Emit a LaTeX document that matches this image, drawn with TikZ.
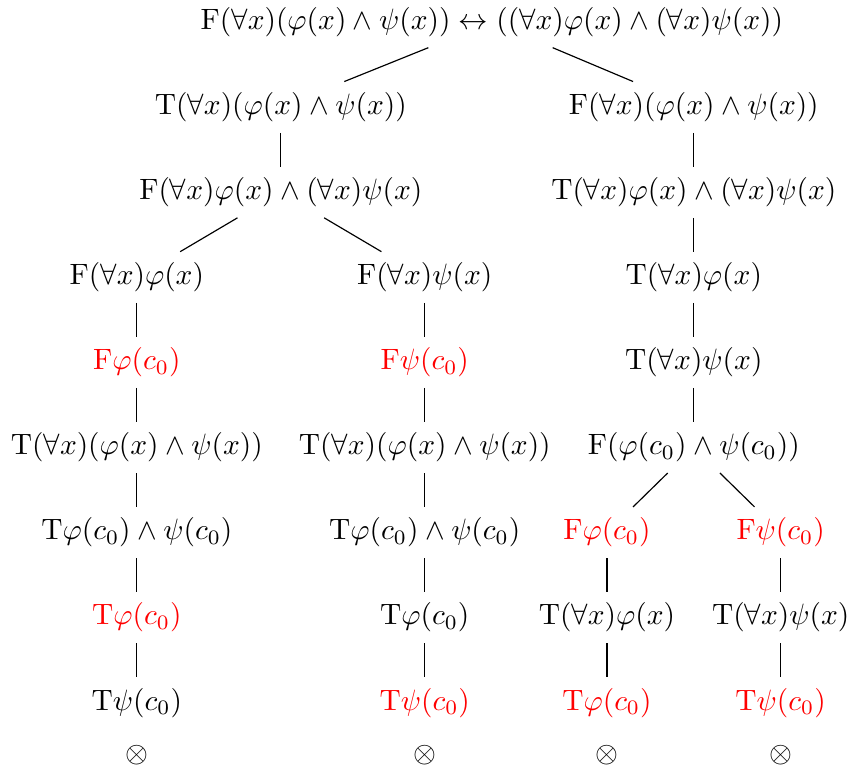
\documentclass[tikz,border=0pt]{standalone}
\usepackage{amsmath}
\usepackage{tikz}
\usetikzlibrary{positioning}
\tikzstyle{formula} = [text height=7.5pt, text depth=2.5pt, inner sep=3.5pt]
\tikzstyle{marked} = [formula, text=red]
\tikzstyle{line} = [draw]

\begin{document}
\begin{tikzpicture}[node distance = 11.5pt and 0pt, every node/.style={formula}]
\useasboundingbox (-167.1pt,7.5pt) rectangle (122.0pt,-254.4pt);

% Root
\node (root) at (0,0) {F$(\forall x)(\varphi(x) \wedge \psi(x)) \leftrightarrow ((\forall x)\varphi(x) \wedge (\forall x)\psi(x))$};

% Left branch
\node [below=of root, xshift=-71.7pt] (l1) {T$(\forall x)(\varphi(x) \wedge \psi(x))$};
\node [below=of l1] (l2) {F$(\forall x)\varphi(x) \wedge (\forall x)\psi(x)$};

\node [below=of l2, xshift=-48.9pt] (a3) {F$(\forall x)\varphi(x)$};
\node [marked, below=of a3] (a4) {F$\varphi(c_0)$};
\node [below=of a4] (a5) {T$(\forall x)(\varphi(x) \wedge \psi(x))$};
\node [below=of a5] (a6) {T$\varphi(c_0) \wedge \psi(c_0)$};
\node [marked, below=of a6] (a7) {T$\varphi(c_0)$};
\node [below=of a7] (a8) {T$\psi(c_0)$};
\node [below=0.6pt of a8] (ax) {$\otimes$};

\node [below=of l2, xshift=48.9pt] (b3) {F$(\forall x)\psi(x)$};
\node [marked, below=of b3] (b4) {F$\psi(c_0)$};
\node [below=of b4] (b5) {T$(\forall x)(\varphi(x) \wedge \psi(x))$};
\node [below=of b5] (b6) {T$\varphi(c_0) \wedge \psi(c_0)$};
\node [below=of b6] (b7) {T$\varphi(c_0)$};
\node [marked, below=of b7] (b8) {T$\psi(c_0)$};
\node [below=0.6pt of b8] (bx) {$\otimes$};

% Right branch
\node [below=of root, xshift=68.6pt] (r1) {F$(\forall x)(\varphi(x) \wedge \psi(x))$};
\node [below=of r1] (r2) {T$(\forall x)\varphi(x) \wedge (\forall x)\psi(x)$};
\node [below=of r2] (r3) {T$(\forall x)\varphi(x)$};
\node [below=of r3] (r4) {T$(\forall x)\psi(x)$};
\node [below=of r4] (r5) {F$(\varphi(c_0) \wedge \psi(c_0))$};

\node [marked, below=of r5, xshift=-29.5pt] (c6) {F$\varphi(c_0)$};
\node [below=of c6] (c7) {T$(\forall x)\varphi(x)$};
\node [marked, below=of c7] (c8) {T$\varphi(c_0)$};
\node [below=0.6pt of c8] (cx) {$\otimes$};

\node [marked, below=of r5, xshift=29.5pt] (d6) {F$\psi(c_0)$};
\node [below=of d6] (d7) {T$(\forall x)\psi(x)$};
\node [marked, below=of d7] (d8) {T$\psi(c_0)$};
\node [below=0.6pt of d8] (dx) {$\otimes$};

% Edges
\path [line] (root) -- (l1);
\path [line] (root) -- (r1);
\path [line] (l1) -- (l2);
\path [line] (l2) -- (a3);
\path [line] (l2) -- (b3);

\path [line] (a3) -- (a4);
\path [line] (a4) -- (a5);
\path [line] (a5) -- (a6);
\path [line] (a6) -- (a7);
\path [line] (a7) -- (a8);

\path [line] (b3) -- (b4);
\path [line] (b4) -- (b5);
\path [line] (b5) -- (b6);
\path [line] (b6) -- (b7);
\path [line] (b7) -- (b8);

\path [line] (r1) -- (r2);
\path [line] (r2) -- (r3);
\path [line] (r3) -- (r4);
\path [line] (r4) -- (r5);
\path [line] (r5) -- (c6);
\path [line] (r5) -- (d6);

\path [line] (c6) -- (c7);
\path [line] (c7) -- (c8);
\path [line] (d6) -- (d7);
\path [line] (d7) -- (d8);

\end{tikzpicture}
\end{document}
